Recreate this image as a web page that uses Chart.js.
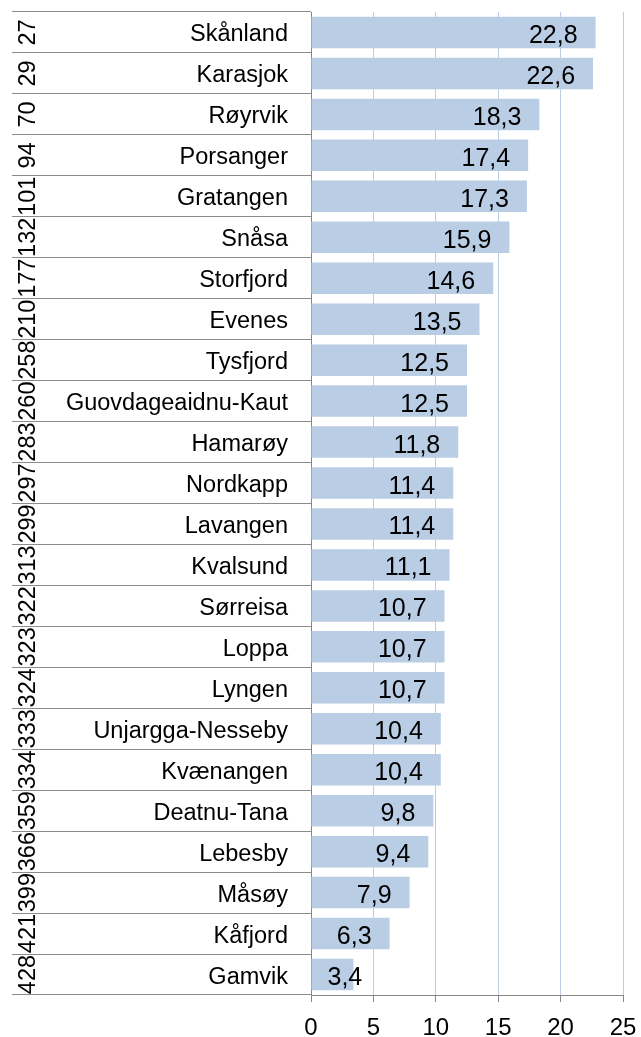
<!DOCTYPE html>
<html>
<head>
<meta charset="utf-8">
<script src="https://cdn.jsdelivr.net/npm/chart.js@4"></script>
<style>
  html, body { margin: 0; padding: 0; background: #fff; overflow: hidden; }
  #wrap { width: 641px; height: 1037px; position: relative; }
  canvas { display: block; }
</style>
</head>
<body>
<div id="wrap"><canvas id="chart"></canvas></div>
<script>
// ranks (rotated) and municipality names, top to bottom
const ranks = ['27', '29', '70', '94', '101', '132', '177', '210', '258', '260', '283', '297',
  '299', '313', '322', '323', '324', '333', '334', '359', '366', '399', '421', '428'];
const names = ['Skånland', 'Karasjok', 'Røyrvik', 'Porsanger', 'Gratangen', 'Snåsa', 'Storfjord',
  'Evenes', 'Tysfjord', 'Guovdageaidnu-Kaut', 'Hamarøy', 'Nordkapp', 'Lavangen', 'Kvalsund',
  'Sørreisa', 'Loppa', 'Lyngen', 'Unjargga-Nesseby', 'Kvænangen', 'Deatnu-Tana', 'Lebesby',
  'Måsøy', 'Kåfjord', 'Gamvik'];
const values = [22.8, 22.6, 18.3, 17.4, 17.3, 15.9, 14.6, 13.5, 12.5, 12.5, 11.8, 11.4,
  11.4, 11.1, 10.7, 10.7, 10.7, 10.4, 10.4, 9.8, 9.4, 7.9, 6.3, 3.4];
const xTicks = [0, 5, 10, 15, 20, 25];

const FONT = '"Liberation Sans", Arial, Helvetica, sans-serif';
const AXIS_GREY = '#868686';
const GRID_BLUE = '#b9cde5';

// draws names + rotated ranks left of the axis, and values inside the bars
const labelPlugin = {
  id: 'labelPlugin',
  afterDraw(chart) {
    const ctx = chart.ctx;
    const y = chart.scales.y;
    const meta = chart.getDatasetMeta(0);
    ctx.save();
    ctx.fillStyle = '#000';
    for (let i = 0; i < names.length; i++) {
      const cy = y.getPixelForTick(i);

      ctx.font = '23.5px ' + FONT;
      ctx.textAlign = 'right';
      ctx.textBaseline = 'alphabetic';
      ctx.fillText(names[i], y.right - 23, cy + 9);

      ctx.save();
      ctx.translate(y.left + 23, cy);
      ctx.rotate(-Math.PI / 2);
      ctx.textAlign = 'center';
      ctx.font = '23.5px ' + FONT;
      ctx.fillText(ranks[i], 0, 0);
      ctx.restore();

      const bar = meta.data[i];
      const txt = values[i].toFixed(1).replace('.', ',');
      ctx.font = '25px ' + FONT;
      const w = ctx.measureText(txt).width;
      let left = bar.x - 18 - w;
      if (left < bar.base + 16) left = bar.base + 16;
      ctx.textAlign = 'left';
      ctx.fillText(txt, left, cy + 10.5);
    }
    ctx.restore();
  }
};

new Chart(document.getElementById('chart'), {
  type: 'bar',
  data: {
    labels: names,
    datasets: [{
      data: values,
      backgroundColor: GRID_BLUE,
      borderWidth: 0,
      barPercentage: 0.77,
      categoryPercentage: 1
    }]
  },
  options: {
    indexAxis: 'y',
    responsive: true,
    maintainAspectRatio: false,
    animation: false,
    layout: { padding: { left: 12, top: 12, right: 18, bottom: 0 } },
    plugins: { legend: { display: false }, tooltip: { enabled: false } },
    scales: {
      x: {
        min: 0,
        max: 25,
        afterBuildTicks: (s) => { s.ticks = xTicks.map(v => ({ value: v })); },
        afterFit: (s) => {
          s.height = 42;
          // the "25" label fits in the layout padding, don't let it shrink the plot
          s.paddingLeft = 0;
          s.paddingRight = 0;
        },
        grid: {
          color: (c) => c.index === 0 ? AXIS_GREY : GRID_BLUE,
          tickColor: AXIS_GREY,
          tickLength: 7,
          lineWidth: 1
        },
        border: { color: AXIS_GREY, width: 1 },
        ticks: {
          color: '#000',
          padding: 14,
          font: { family: FONT, size: 24, lineHeight: 1 }
        }
      },
      y: {
        afterFit: (s) => { s.width = 299; },
        grid: {
          offset: true,
          drawOnChartArea: false,
          drawTicks: true,
          tickLength: 299,
          color: '#8c8c8c',
          tickColor: '#8c8c8c',
          lineWidth: 1
        },
        border: { color: AXIS_GREY, width: 1 },
        ticks: { display: false }
      }
    }
  },
  plugins: [labelPlugin]
});
</script>
</body>
</html>
